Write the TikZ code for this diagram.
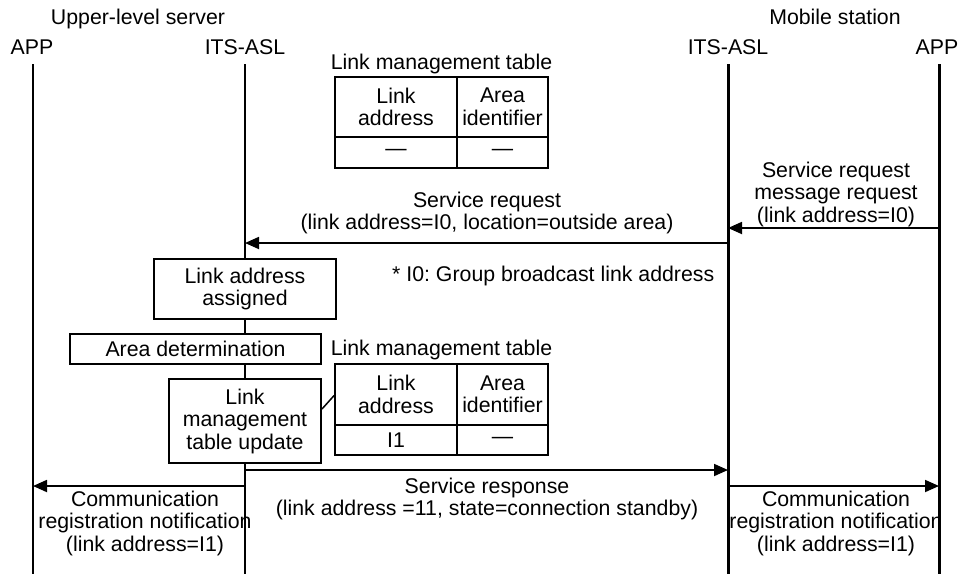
\documentclass[tikz,border=0pt]{standalone}
\usepackage{fontspec}
\setmainfont{Liberation Sans}
\usetikzlibrary{arrows.meta}
\frenchspacing
\begin{document}
\begin{tikzpicture}[x=1pt,y=-1pt,
  every node/.style={font=\fontsize{21.3}{22.5}\selectfont, inner sep=0pt, align=center},
  lifeL/.style={line width=2pt},
  lifeR/.style={line width=3pt},
  msg/.style={line width=1.8pt, -{Triangle[length=14pt,width=12pt]}},
  proc/.style={draw, line width=2pt, fill=white},
  cellA/.style={draw, line width=1.8pt, minimum width=122pt},
  cellB/.style={draw, line width=1.8pt, minimum width=91pt}
]
\useasboundingbox (0,0) rectangle (963,574);
% headers
\node[anchor=base] (srv) at (138,24) {Upper-level server};
\node[anchor=base] (mob) at (835,24) {Mobile station};
\node[anchor=base] (hAppL) at (32,54) {APP};
\node[anchor=base] (hAslL) at (245,54) {ITS-ASL};
\node[anchor=base] (hAslR) at (728,54) {ITS-ASL};
\node[anchor=base] (hAppR) at (937,54) {APP};
% lifeline ends
\coordinate (appLt) at (33,64);  \coordinate (appLb) at (33,574);
\coordinate (aslLt) at (245,64); \coordinate (aslLb) at (245,574);
\coordinate (aslRt) at (728,64); \coordinate (aslRb) at (728,574);
\coordinate (appRt) at (939,64); \coordinate (appRb) at (939,574);
\draw[lifeL] (appLt) -- (appLb);
\draw[lifeL] (aslLt) -- (aslLb);
\draw[lifeR] (aslRt) -- (aslRb);
\draw[lifeR] (appRt) -- (appRb);
% table 1
\node[anchor=base] (tt1) at (441.5,69) {Link management table};
\node[cellA, minimum height=60pt] (t1a) at (396,107) {Link\\address};
\node[cellB, minimum height=60pt] (t1b) at (502.5,107) {Area\\identifier};
\node[cellA, minimum height=31pt] (t1c) at (396,152.5) {—};
\node[cellB, minimum height=31pt] (t1d) at (502.5,152.5) {—};
% service request message request
\coordinate (m1s) at (939,228); \coordinate (m1e) at (728,228);
\draw[msg] (m1s) -- (m1e);
\node (m1t) at (836,194) {Service request\\message request\\(link address=I0)};
% service request
\coordinate (m2s) at (728,243); \coordinate (m2e) at (245,243);
\draw[msg] (m2s) -- (m2e);
\node (m2t) at (487,213) {Service request\\(link address=I0, location=outside area)};
% note
\node[anchor=base west] (note) at (392,281) {* I0: Group broadcast link address};
% processes
\node[proc, minimum width=182pt, minimum height=60pt] (p1) at (245,289) {Link address\\assigned};
\node[proc, minimum width=251pt, minimum height=30pt] (p2) at (195.5,349) {Area determination};
\node[proc, minimum width=152pt, minimum height=84pt] (p3) at (245,421) {Link\\management\\table update};
% table 2
\node[anchor=base] (tt2) at (441.5,355) {Link management table};
\node[cellA, minimum height=61pt] (t2a) at (396,394.5) {Link\\address};
\node[cellB, minimum height=61pt] (t2b) at (502.5,394.5) {Area\\identifier};
\node[cellA, minimum height=30pt] (t2c) at (396,440) {I1};
\node[cellB, minimum height=30pt] (t2d) at (502.5,440) {—};
\draw[line width=1.5pt] ([yshift=12pt]p3.east) -- ([yshift=-1pt]t2a.west);
% service response
\coordinate (m3s) at (245,470); \coordinate (m3e) at (728,470);
\draw[msg] (m3s) -- (m3e);
\node (m3t) at (487,499) {Service response\\(link address =11, state=connection standby)};
% communication registration notifications
\coordinate (m4s) at (245,486); \coordinate (m4e) at (33,486);
\draw[msg] (m4s) -- (m4e);
\node (m4t) at (145,523) {Communication\\registration notification\\(link address=I1)};
\coordinate (m5s) at (728,486); \coordinate (m5e) at (939,486);
\draw[msg] (m5s) -- (m5e);
\node (m5t) at (836,523) {Communication\\registration notification\\(link address=I1)};
\end{tikzpicture}
\end{document}
